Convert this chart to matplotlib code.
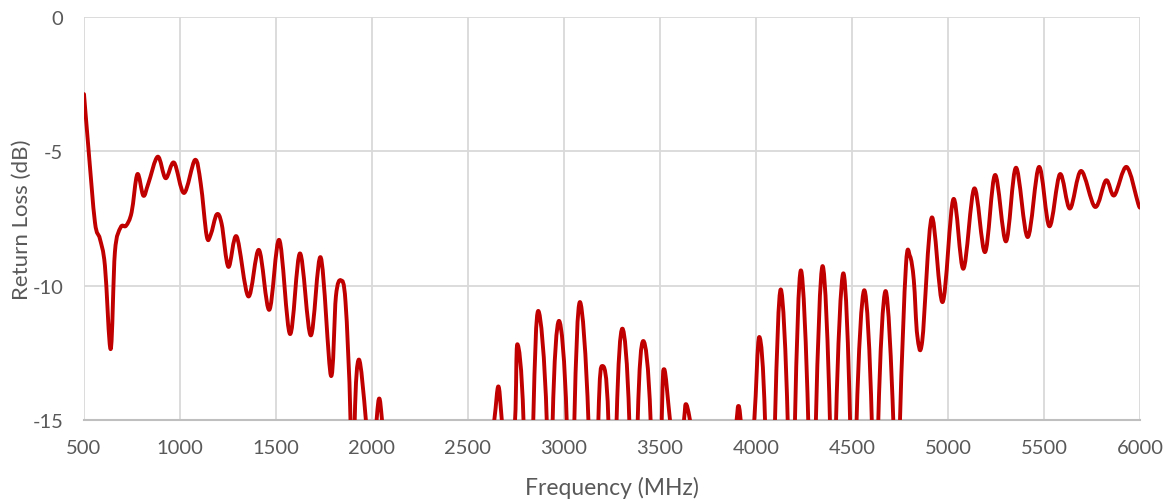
import numpy as np
import matplotlib
matplotlib.use("Agg")
import matplotlib.pyplot as plt
from matplotlib.path import Path
from matplotlib.patches import PathPatch
from matplotlib.ticker import FixedLocator, FixedFormatter

# ---- data (values below -15 dB are off-scale estimates) ----
freq_mhz = [
    500, 522, 557, 583, 609, 639, 661, 691, 719, 748, 778, 809, 835, 884, 925, 969,
    1021, 1078, 1108, 1139, 1160, 1191, 1217, 1252, 1295, 1356, 1411, 1465, 1517,
    1573, 1625, 1681, 1733, 1786, 1812, 1838, 1862, 1888, 1900, 1910, 1932, 1968, 1995,
    2024, 2038, 2052,
    2075, 2200, 2350, 2500, 2600,
    2637, 2658, 2676, 2710, 2745, 2757, 2789, 2815, 2840, 2866, 2910, 2926, 2941,
    2974, 3014, 3034, 3054, 3083, 3127, 3153, 3179, 3200, 3231, 3252, 3274, 3304,
    3340, 3362, 3384, 3413, 3451, 3480, 3509, 3522, 3552, 3590, 3625, 3635, 3656,
    3700, 3800, 3870,
    3899, 3908, 3920, 3955, 3991, 4017, 4047, 4073, 4099, 4129, 4165, 4184, 4203,
    4234, 4272, 4292, 4312, 4347, 4385, 4401, 4417, 4455, 4490, 4507, 4524, 4564,
    4603, 4620, 4637, 4675, 4715, 4732, 4750, 4781, 4802, 4822, 4840, 4866,
    4915, 4972, 5028, 5080, 5137, 5193, 5245, 5302, 5354, 5415, 5474, 5528, 5583,
    5635, 5693, 5766, 5823, 5866, 5930, 5991, 6000,
]
return_loss_db = [
    -2.87, -4.79, -7.64, -8.26, -9.26, -12.36, -8.75, -7.83, -7.77, -7.27, -5.85,
    -6.65, -6.20, -5.20, -6.00, -5.42, -6.55, -5.32, -6.20, -8.15, -8.10, -7.35,
    -7.70, -9.30, -8.17, -10.40, -8.67, -10.90, -8.30, -11.80, -8.80, -11.85, -8.95,
    -13.35, -10.40, -9.80, -10.60, -15.0, -22.0, -15.0, -12.75, -15.0, -18.0, -15.0, -14.20,
    -15.0,
    -17.0, -24.0, -26.0, -24.0, -17.0,
    -15.0, -13.75, -15.0, -18.0, -15.0, -12.18, -15.0, -25.0, -15.0, -10.94, -15.0,
    -25.0, -15.0, -11.31, -15.0, -25.0, -15.0, -10.61, -15.0, -25.0, -15.0, -12.99,
    -15.0, -25.0, -15.0, -11.60, -15.0, -25.0, -15.0, -12.06, -15.0, -25.0, -15.0,
    -13.11, -15.0, -17.5, -15.0, -14.41, -15.0,
    -17.0, -24.0, -17.0,
    -15.0, -14.48, -15.0, -18.0, -15.0, -11.91, -15.0, -25.0, -15.0, -10.14, -15.0,
    -25.0, -15.0, -9.43, -15.0, -25.0, -15.0, -9.27, -15.0, -25.0, -15.0, -9.54,
    -15.0, -25.0, -15.0, -10.17, -15.0, -25.0, -15.0, -10.20, -15.0, -22.0, -15.0,
    -9.25, -8.90, -9.80, -11.85, -12.05,
    -7.47, -10.61, -6.78, -9.37, -6.38, -8.75, -5.88, -8.35, -5.61, -8.19, -5.58,
    -7.79, -5.85, -7.13, -5.73, -7.07, -6.08, -6.64, -5.58, -6.96, -7.05,
]
x_ticks = [500, 1000, 1500, 2000, 2500, 3000, 3500, 4000, 4500, 5000, 5500, 6000]
y_ticks = [0, -5, -10, -15]
y_tick_labels = ["0", "-5", "-10", "-15"]
x_title = "Frequency (MHz)"
y_title = "Return Loss (dB)"

# ---- figure ----
plt.rcParams['font.family'] = ['Lato', 'DejaVu Sans']
W, H, DPI = 1164, 502, 100
fig = plt.figure(figsize=(W / DPI, H / DPI), dpi=DPI)
ax = fig.add_axes([84 / W, 1 - 421 / H, (1140 - 84) / W, (421 - 18) / H])

ax.set_xlim(500, 6000)
ax.set_ylim(-15, 0)

grid_c = "#D9D9D9"
text_c = "#595959"
ax.xaxis.set_major_locator(FixedLocator(x_ticks))
ax.xaxis.set_major_formatter(FixedFormatter([str(v) for v in x_ticks]))
ax.yaxis.set_major_locator(FixedLocator(y_ticks))
ax.yaxis.set_major_formatter(FixedFormatter(y_tick_labels))
ax.grid(True, color=grid_c, linewidth=1.3)
ax.set_axisbelow(True)
for s in ["top", "right", "left"]:
    ax.spines[s].set_visible(False)
ax.spines["bottom"].set_color("#BFBFBF")
ax.spines["bottom"].set_linewidth(1.5)
ax.tick_params(axis="both", length=0, labelcolor=text_c, labelsize=14.5)
ax.tick_params(axis="x", pad=14)
ax.tick_params(axis="y", pad=15)

ax.set_xlabel(x_title, color=text_c, fontsize=16.5, labelpad=14)
ax.set_ylabel(y_title, color=text_c, fontsize=16, labelpad=0)

# smoothed line (Excel-style Catmull-Rom Bezier through the data points)
P = np.column_stack([np.asarray(freq_mhz, float), np.asarray(return_loss_db, float)])
n = len(P)
verts = [P[0]]
codes = [Path.MOVETO]
for i in range(n - 1):
    p0 = P[max(i - 1, 0)]
    p1 = P[i]
    p2 = P[i + 1]
    p3 = P[min(i + 2, n - 1)]
    c1 = p1 + (p2 - p0) / 6.0
    c2 = p2 - (p3 - p1) / 6.0
    verts += [c1, c2, p2]
    codes += [Path.CURVE4] * 3
patch = PathPatch(Path(verts, codes), facecolor="none", edgecolor="#C00000",
                  linewidth=2.8, capstyle="round", joinstyle="round",
                  transform=ax.transData, zorder=3)
ax.add_patch(patch)
patch.set_clip_path(ax.patch)

fig.savefig("out.png", dpi=DPI)
